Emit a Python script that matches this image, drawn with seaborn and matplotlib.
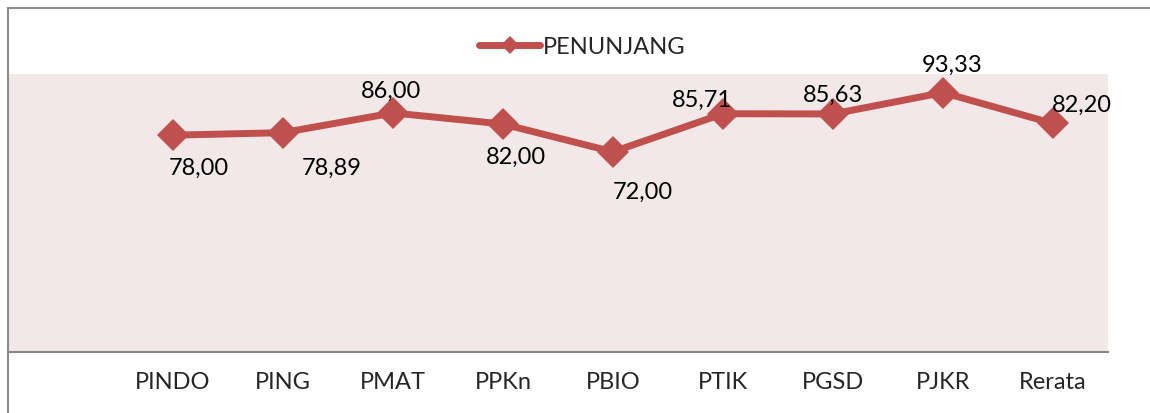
import pandas as pd
import seaborn as sns
import matplotlib.pyplot as plt
from matplotlib.patches import Rectangle

# data
prodi = ['PINDO', 'PING', 'PMAT', 'PPKn', 'PBIO', 'PTIK', 'PGSD', 'PJKR', 'Rerata']
penunjang = [78.00, 78.89, 86.00, 82.00, 72.00, 85.71, 85.63, 93.33, 82.20]
value_labels = ['78,00', '78,89', '86,00', '82,00', '72,00', '85,71', '85,63', '93,33', '82,20']

# label offsets in pixels (dx, dy) from each point
label_offsets = [(26, -32), (49, -35), (-2, 23), (13, -32), (30, -40),
                 (-21, 14), (0, 20), (9, 28), (29, 19)]

df = pd.DataFrame({'Prodi': prodi, 'Nilai': penunjang})

sns.set_style('white')
plt.rcParams['font.family'] = ['Lato', 'DejaVu Sans']

red = '#C0504D'
fig = plt.figure(figsize=(11.5, 4.14), dpi=100)
ax = fig.add_axes([8 / 1150, 61 / 414, 1100 / 1150, 278 / 414])
ax.set_facecolor('#F2E8E8')

sns.lineplot(data=df, x='Prodi', y='Nilai', ax=ax, color=red, linewidth=5,
             marker='D', markersize=16, markeredgewidth=0, label='PENUNJANG',
             sort=False)

for i, (v, txt) in enumerate(zip(penunjang, value_labels)):
    dx, dy = label_offsets[i]
    ax.annotate(txt, (i, v), xytext=(dx, dy), textcoords='offset pixels',
                ha='center', va='center', fontsize=17, color='black')

ax.set_xlim(-1.5, 8.5)
ax.set_ylim(0, 100)
ax.set_yticks([])
ax.set_xlabel('')
ax.set_ylabel('')
ax.tick_params(axis='x', length=0, pad=14, labelsize=17)
for s in ['top', 'right', 'left']:
    ax.spines[s].set_visible(False)
ax.spines['bottom'].set_color('#868686')
ax.spines['bottom'].set_linewidth(1.5)

leg = ax.legend(loc='center', bbox_to_anchor=(582 / 1150, 1 - 48 / 414),
                bbox_transform=fig.transFigure, frameon=False, fontsize=17,
                handlelength=2.6, handletextpad=0.1, markerscale=0.55)

# chart frame
fig.patches.append(Rectangle((8 / 1150, -0.1), 1.2, 1.1 - 9 / 414,
                             transform=fig.transFigure, fill=False,
                             edgecolor='#8C8C8C', linewidth=1.5))

plt.savefig('out.png', dpi=100)
